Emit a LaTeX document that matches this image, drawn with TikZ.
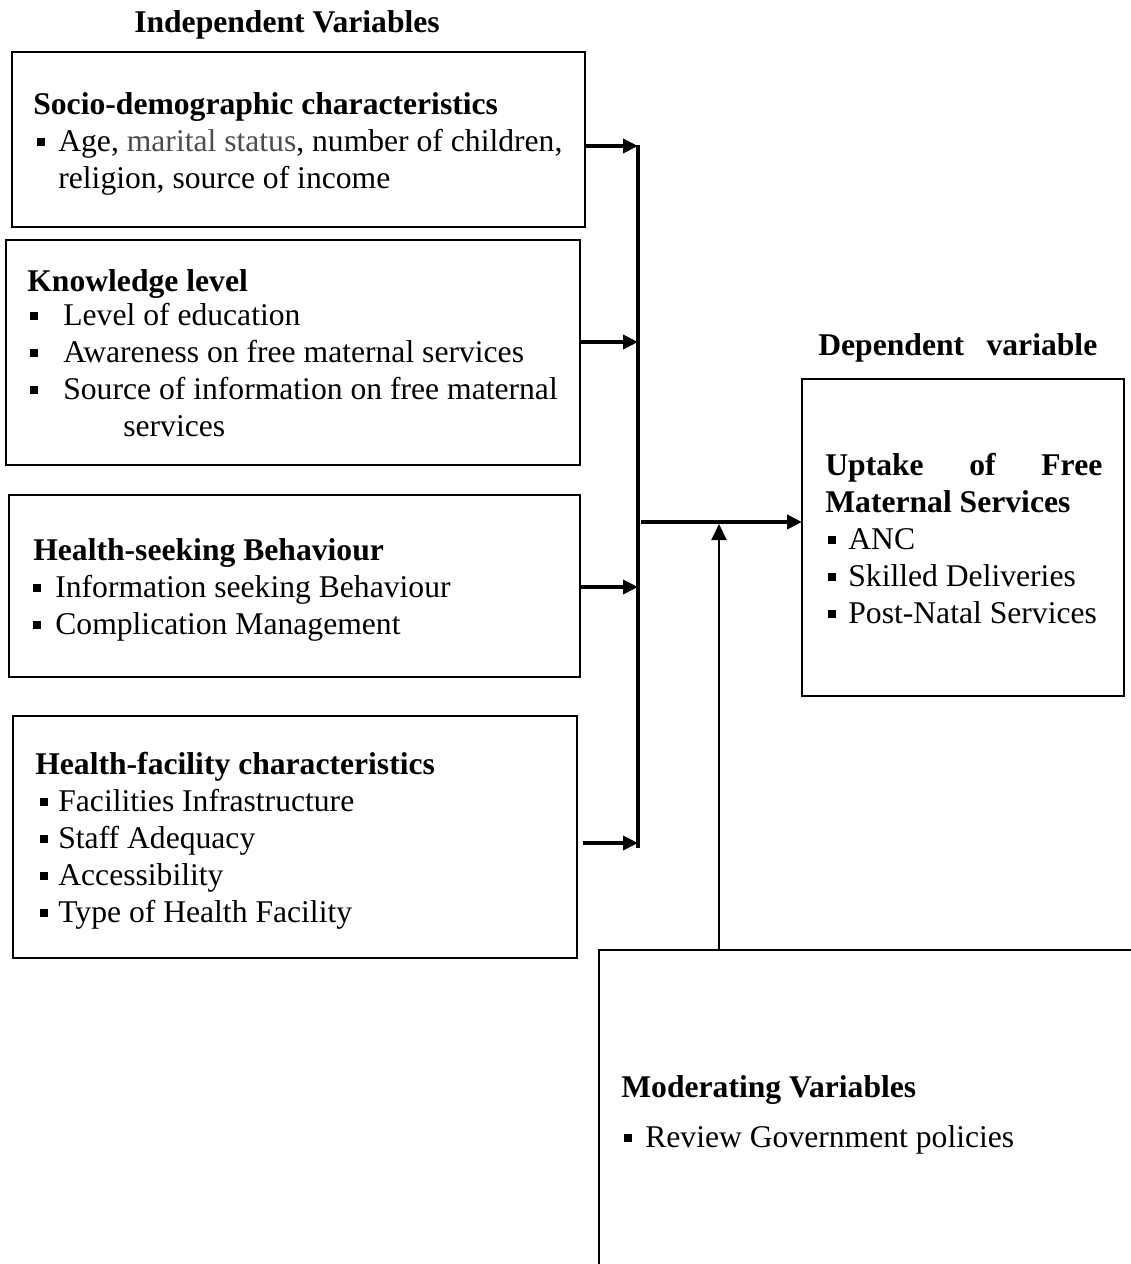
\documentclass[tikz,border=0pt]{standalone}
\usepackage{fontspec}
\setmainfont{Liberation Serif}
\usetikzlibrary{positioning}
\usetikzlibrary{arrows.meta}
\newcommand{\sqbul}[2]{\hspace*{#1}\makebox[#2][l]{\rule[0.17em]{0.25em}{0.25em}}}

\begin{document}
\begin{tikzpicture}[x=0.02cm,y=-0.02cm,
        varbox/.style={draw,line width=1.1pt,shape=rectangle,anchor=north west,outer sep=0pt,inner sep=0pt},
        vartext/.style={anchor=base west,align=left,inner sep=0pt,font=\fontsize{18}{21}\selectfont},
        vartitle/.style={inner sep=0pt,font=\bfseries\fontsize{18}{21}\selectfont},
        feed/.style={line width=2.2pt,-{Triangle[length=0.3cm,width=0.28cm]}},
        busline/.style={line width=2.3pt},
        modline/.style={line width=1.1pt,-{Triangle[length=0.32cm,width=0.3cm]}}]
        \useasboundingbox (0,0) rectangle (1131,1264);
        \clip (0,0) rectangle (1131,1264);

        \node[vartitle,anchor=base] (indeptitle) at (287,33) {Independent Variables};
        \node[vartitle,anchor=base west] (deptitle) at (818,355) {\makebox[5.58cm][s]{Dependent\hfill variable}};

        \node[varbox,minimum width=11.46cm,minimum height=3.5cm] (sdbox) at (12,52) {};
        \node[varbox,minimum width=11.48cm,minimum height=4.5cm] (knowbox) at (6,240) {};
        \node[varbox,minimum width=11.42cm,minimum height=3.64cm] (hsbbox) at (9,495) {};
        \node[varbox,minimum width=11.28cm,minimum height=4.84cm] (hfcbox) at (13,716) {};
        \node[varbox,minimum width=6.44cm,minimum height=6.34cm] (depbox) at (802,379) {};
        \node[varbox,minimum width=13cm,minimum height=8cm] (modbox) at (599,950) {};

        \node[vartext] (sdtext) at (33,188) {\textbf{Socio-demographic characteristics}\\
        \sqbul{0.08cm}{0.42cm}Age, \textcolor{black!70}{marital status}, number of children,\\
        \hspace*{0.5cm}religion, source of income};
        \node[vartext] (knowtext) at (27,436) {\textbf{Knowledge level}\\[-1.7pt]
        \sqbul{0.06cm}{0.66cm}Level of education\\
        \sqbul{0.06cm}{0.66cm}Awareness on free maternal services\\
        \sqbul{0.06cm}{0.66cm}Source of information on free maternal\\
        \hspace*{1.92cm}services};
        \node[vartext] (hsbtext) at (33,634) {\textbf{Health-seeking Behaviour}\\
        \sqbul{0cm}{0.44cm}Information seeking Behaviour\\
        \sqbul{0cm}{0.44cm}Complication Management};
        \node[vartext] (hfctext) at (35,922) {\textbf{Health-facility characteristics}\\
        \sqbul{0.1cm}{0.36cm}Facilities Infrastructure\\
        \sqbul{0.1cm}{0.36cm}Staff Adequacy\\
        \sqbul{0.1cm}{0.36cm}Accessibility\\
        \sqbul{0.1cm}{0.36cm}Type of Health Facility};
        \node[vartext] (deptext) at (825,623) {\textbf{\makebox[5.54cm][s]{Uptake\hfill of\hfill Free}}\\
        \textbf{Maternal Services}\\
        \sqbul{0.06cm}{0.4cm}ANC\\
        \sqbul{0.06cm}{0.4cm}Skilled Deliveries\\
        \sqbul{0.06cm}{0.4cm}Post-Natal Services};
        \node[vartext] (modtext) at (621,1147) {\textbf{Moderating Variables}\\[0.26cm]
        \sqbul{0.06cm}{0.42cm}Review Government policies};

        \coordinate (bustop) at (638,145);
        \coordinate (busbot) at (638,848);
        \coordinate (bus1) at (638,146);
        \coordinate (bus2) at (638,342);
        \coordinate (bus3) at (638,587);
        \coordinate (bus4) at (638,843);
        \coordinate (hfcout) at (583,843);
        \coordinate (junction) at (641,522);
        \coordinate (modfoot) at (719,951);

        \draw[busline] (bustop) -- (busbot);
        \draw[feed] (sdbox.east |- bus1) -- (bus1);
        \draw[feed] (knowbox.east |- bus2) -- (bus2);
        \draw[feed] (hsbbox.east |- bus3) -- (bus3);
        \draw[feed] (hfcout) -- (bus4);
        \draw[feed] (junction) -- (depbox.west |- junction);
        \draw[modline] (modfoot) -- ([yshift=-0.04cm]modfoot |- junction);
\end{tikzpicture}
\end{document}
